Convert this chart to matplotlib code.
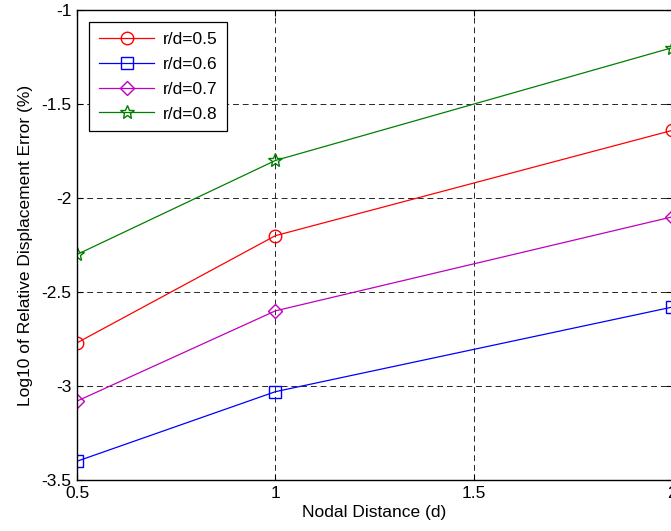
import matplotlib.pyplot as plt

plt.rcParams['font.family'] = ['Liberation Sans', 'DejaVu Sans']

# nodal distance (d)
nodal_dist = [0.5, 1, 2]

# log10 of relative displacement error for each r/d
err_05 = [-2.77, -2.20, -1.64]
err_06 = [-3.40, -3.03, -2.58]
err_07 = [-3.08, -2.60, -2.10]
err_08 = [-2.30, -1.80, -1.20]

labels = ['r/d=0.5', 'r/d=0.6', 'r/d=0.7', 'r/d=0.8']

fig = plt.figure(figsize=(6.71, 5.31), dpi=100)
ax = fig.add_axes([0.1148, 0.096, 0.887, 0.885])

ax.plot(nodal_dist, err_05, color='red', marker='o', mfc='none', ms=9, lw=0.9, label=labels[0])
ax.plot(nodal_dist, err_06, color='blue', marker='s', mfc='none', ms=9, lw=0.9, label=labels[1])
ax.plot(nodal_dist, err_07, color='m', marker='D', mfc='none', ms=7.5, lw=0.9, label=labels[2])
ax.plot(nodal_dist, err_08, color='green', marker='*', mfc='none', ms=10, lw=0.9, label=labels[3])

ax.set_xlim(0.5, 2)
ax.set_ylim(-3.5, -1)
ax.set_xticks([0.5, 1, 1.5, 2])
ax.set_xticklabels(['0.5', '1', '1.5', '2'])
ax.set_yticks([-3.5, -3, -2.5, -2, -1.5, -1])
ax.set_yticklabels(['-3.5', '-3', '-2.5', '-2', '-1.5', '-1'])
ax.tick_params(labelsize=12.5, direction='in', length=4, top=True, right=True, pad=4)
ax.grid(True, color='black', linestyle=(0, (6, 4)), linewidth=0.7, alpha=0.85)
for s in ax.spines.values():
    s.set_linewidth(1.0)

ax.set_xlabel('Nodal Distance (d)', fontsize=12.5, labelpad=3)
ax.set_ylabel('Log10 of Relative Displacement Error (%)', fontsize=12.5, labelpad=6)

leg = ax.legend(loc='upper left', fontsize=12.5, fancybox=False, edgecolor='black',
                framealpha=1, borderaxespad=0.7, handlelength=3.2, handletextpad=0.5,
                labelspacing=0.56, borderpad=0.55)
leg.get_frame().set_linewidth(0.9)

fig.savefig('out.png', dpi=100)
